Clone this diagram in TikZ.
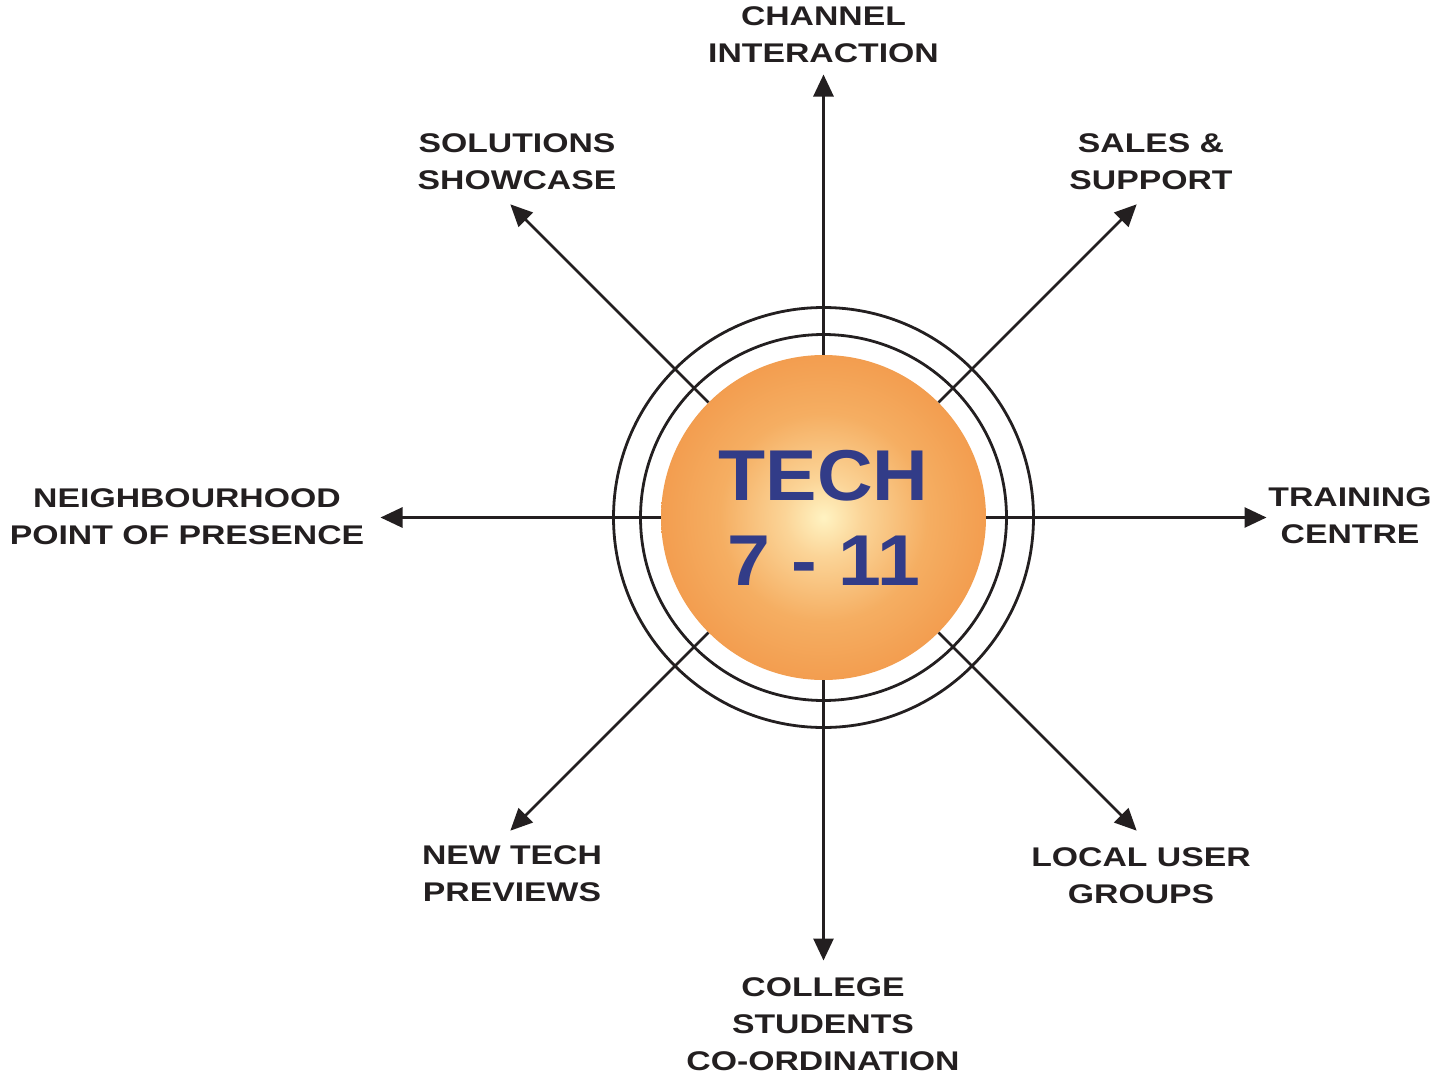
\documentclass[tikz,border=0pt]{standalone}
\usepackage{fontspec}
\setmainfont{Liberation Sans}
\newfontfamily\labelfont{Liberation Sans}[FakeStretch=1.25]
\newfontfamily\techfont{Liberation Sans}[FakeStretch=1.07]
\usetikzlibrary{arrows.meta}
\definecolor{ink}{HTML}{231F20}
\definecolor{techblue}{HTML}{323C88}
\definecolor{orbA}{HTML}{FFF3C2}
\definecolor{orbB}{HTML}{FBD497}
\definecolor{orbC}{HTML}{F5AE62}
\definecolor{orbD}{HTML}{F19445}
\definecolor{orbE}{HTML}{ED822E}
\pgfdeclareradialshading{orbshade}{\pgfpoint{0bp}{0bp}}{color(0bp)=(orbA); color(6bp)=(orbB); color(16bp)=(orbC); color(30bp)=(orbD); color(50bp)=(orbE)}
\tikzset{
  ring/.style={circle, draw=ink, line width=2.8pt, inner sep=0pt},
  spoke/.style={draw=ink, line width=2.8pt, -{Triangle[length=22pt,width=20pt]}},
  lbl/.style={text=ink, align=center, font=\labelfont\bfseries\fontsize{27}{37}\selectfont, inner sep=0pt},
}
\begin{document}
\begin{tikzpicture}[x=1pt,y=-1pt]
\useasboundingbox (0,0) rectangle (1435,1076);
\coordinate (c) at (823.5,517.5);
\node[ring, minimum size=420pt] (outerring) at (c) {};
\node[ring, minimum size=366pt] (innerring) at (c) {};
\coordinate (tN)  at (823.5,74.5);
\coordinate (tS)  at (823.5,960.5);
\coordinate (tW)  at (380.5,517.5);
\coordinate (tE)  at (1266.5,517.5);
\coordinate (tNW) at (510.3,204.3);
\coordinate (tNE) at (1136.7,204.3);
\coordinate (tSW) at (510.3,830.7);
\coordinate (tSE) at (1136.7,830.7);
\node[circle, minimum size=325pt, inner sep=0pt, shading=orbshade, text=techblue, align=center,
      font=\techfont\bfseries\fontsize{72}{85}\selectfont] (orb) at (c) {TECH\\7 - 11};
\foreach \t in {tN,tS,tW,tE,tNW,tNE,tSW,tSE} \draw[spoke] (orb) -- (\t);
\node[lbl] (lN)  at (823.5,35)   {CHANNEL\\INTERACTION};
\node[lbl] (lNW) at (517,161.5)  {SOLUTIONS\\SHOWCASE};
\node[lbl] (lNE) at (1151,161.5) {SALES \&\\SUPPORT};
\node[lbl] (lW)  at (187,516.5)  {NEIGHBOURHOOD\\POINT OF PRESENCE};
\node[lbl] (lE)  at (1350,516)   {TRAINING\\CENTRE};
\node[lbl] (lSW) at (512,874)    {NEW TECH\\PREVIEWS};
\node[lbl] (lSE) at (1141,875.5) {LOCAL USER\\GROUPS};
\node[lbl] (lS)  at (823,1024.5) {COLLEGE\\STUDENTS\\CO-ORDINATION};
\end{tikzpicture}
\end{document}
